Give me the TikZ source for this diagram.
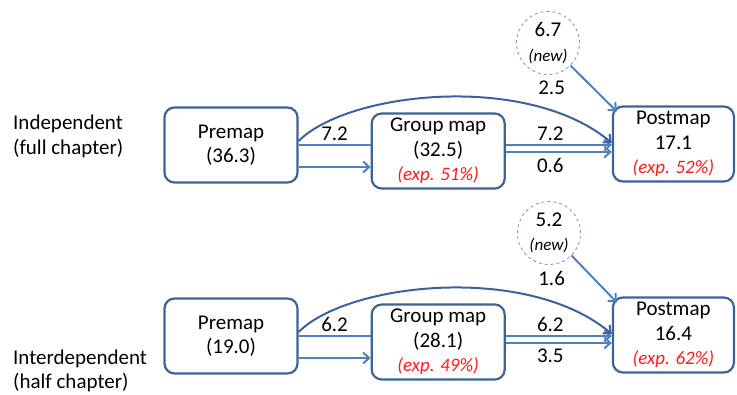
\documentclass[tikz,border=0pt]{standalone}
\usepackage{fontspec}
\setmainfont{Carlito}
\usetikzlibrary{positioning,arrows.meta}
\definecolor{boxblue}{HTML}{3C6496}
\definecolor{flowblue}{HTML}{4F81BD}
\definecolor{curveblue}{HTML}{3A62A0}
\definecolor{ringgray}{HTML}{7D93B5}
\definecolor{expred}{HTML}{FF1A1A}
\newcommand{\expnote}[1]{{\fontsize{19}{22}\selectfont\itshape\color{expred}(exp. #1\%)}}
\newcommand{\newnote}{{\fontsize{17}{20}\selectfont\itshape (new)}}

\begin{document}
\begin{tikzpicture}[%
  x=1pt, y=1pt,
  every node/.style={font=\fontsize{21}{24.5}\selectfont},
  mapbox/.style={%
    rectangle,
    rounded corners=10pt,
    minimum width=133pt,
    minimum height=75pt,
    inner sep=0pt,
    align=center,
    draw=boxblue,
    line width=2.2pt,
  },
  ring/.style={%
    circle,
    minimum size=63pt,
    inner sep=0pt,
    align=center,
    draw=ringgray,
    dashed,
    line width=0.8pt,
  },
  plain/.style={draw=flowblue, line width=2pt},
  flow/.style={plain, -{Straight Barb[length=6pt,width=11pt]}},
  arcflow/.style={draw=curveblue, line width=2pt, -{Straight Barb[length=6pt,width=11pt]}},
  tag/.style={inner sep=0pt, anchor=west, align=left}
]
  \useasboundingbox (0,0) rectangle (737,-394);

  % independent, full chapter
  \node [tag] (lbl1) at (13,-136.5) {Independent\\(full chapter)};
  \node [mapbox] (pre1) at (231,-145) {Premap\\(36.3)};
  \node [mapbox, right=72pt of pre1, yshift=-6pt] (grp1) {Group map\\(32.5)\\\expnote{51}};
  \node [mapbox, minimum width=121pt, right=106pt of grp1, yshift=7pt] (post1) {Postmap\\17.1\\\expnote{52}};
  \node [ring] (new1) at (548,-43) {6.7\\\newnote};

  \draw [plain] (pre1.east) -- node [above] {7.2} ([yshift=6pt]grp1.west);
  \draw [flow] ([yshift=-22pt]pre1.east) -- ([yshift=-16pt]grp1.west);
  \draw [flow] ([yshift=6pt]grp1.east) -- node [pos=0.42, above] {7.2} ([yshift=-1pt]post1.west);
  \draw [flow] ([yshift=-1pt]grp1.east) -- node [pos=0.42, below=2pt] {0.6} ([yshift=-8pt]post1.west);
  \draw [arcflow] ([yshift=4pt]pre1.east) .. controls +(45:70) and +(140:110) ..
    node [pos=0.8, above=12pt] {2.5} ([yshift=1pt]post1.west);
  \draw [flow] (new1.-45) -- ([shift={(5pt,-6pt)}]post1.north west);

  % interdependent, half chapter
  \node [tag] (lbl2) at (13,-371) {Interdependent\\(half chapter)};
  \node [mapbox] (pre2) at (231,-336) {Premap\\(19.0)};
  \node [mapbox, right=72pt of pre2, yshift=-6pt] (grp2) {Group map\\(28.1)\\\expnote{49}};
  \node [mapbox, minimum width=121pt, right=106pt of grp2, yshift=7pt] (post2) {Postmap\\16.4\\\expnote{62}};
  \node [ring] (new2) at (549,-233) {5.2\\\newnote};

  \draw [plain] (pre2.east) -- node [above] {6.2} ([yshift=6pt]grp2.west);
  \draw [flow] ([yshift=-22pt]pre2.east) -- ([yshift=-16pt]grp2.west);
  \draw [flow] ([yshift=6pt]grp2.east) -- node [pos=0.42, above] {6.2} ([yshift=-1pt]post2.west);
  \draw [flow] ([yshift=-1pt]grp2.east) -- node [pos=0.42, below=2pt] {3.5} ([yshift=-8pt]post2.west);
  \draw [arcflow] ([yshift=4pt]pre2.east) .. controls +(45:70) and +(140:110) ..
    node [pos=0.8, above=12pt] {1.6} ([yshift=1pt]post2.west);
  \draw [flow] (new2.-45) -- ([shift={(5pt,-6pt)}]post2.north west);
\end{tikzpicture}
\end{document}
